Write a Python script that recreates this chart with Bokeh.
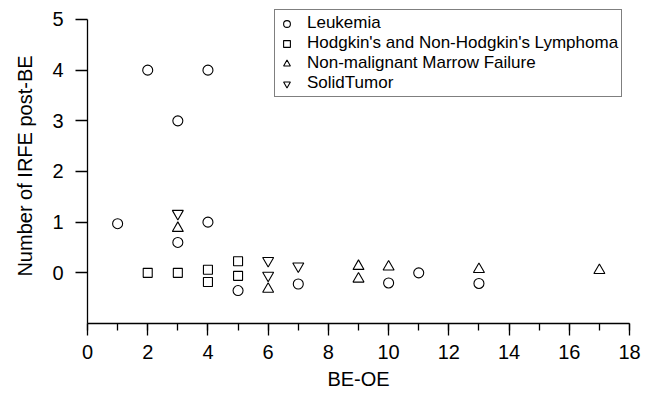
from bokeh.plotting import figure
from bokeh.models import Range1d, FixedTicker, Legend, LegendItem
from bokeh.embed import file_html
from bokeh.resources import INLINE

# Data
leuk_x = [1, 2, 3, 3, 4, 4, 5, 7, 10, 11, 13]
leuk_y = [0.97, 4.0, 3.0, 0.6, 4.0, 1.0, -0.35, -0.22, -0.2, 0.0, -0.21]
hodg_x = [2, 3, 4, 4, 5, 5]
hodg_y = [0.0, 0.0, 0.06, -0.18, 0.23, -0.06]
marrow_x = [3, 6, 9, 9, 10, 13, 17]
marrow_y = [0.88, -0.32, 0.13, -0.12, 0.12, 0.07, 0.05]
solid_x = [3, 6, 6, 7]
solid_y = [1.17, 0.24, -0.05, 0.13]

x_ticks = [0, 2, 4, 6, 8, 10, 12, 14, 16, 18]
y_ticks = [0, 1, 2, 3, 4, 5]
y_axis_bounds = (-1, 5)

FONT = "Liberation Sans"

p = figure(width=648, height=395, output_backend="svg", toolbar_location=None,
           x_range=Range1d(0, 18), y_range=Range1d(-1, 5.217),
           min_border_left=87, min_border_right=19, min_border_top=8, min_border_bottom=72)
p.outline_line_color = None
p.grid.visible = False
p.background_fill_color = "white"
p.border_fill_color = "white"

common = dict(fill_color=None, line_color="black", line_width=1.1)
r1 = p.scatter(leuk_x, leuk_y, marker="circle", size=10, **common)
r2 = p.scatter(hodg_x, hodg_y, marker="square", size=9, **common)
r3 = p.scatter(marrow_x, marrow_y, marker="triangle", size=11, **common)
r4 = p.scatter(solid_x, solid_y, marker="inverted_triangle", size=11, **common)

p.xaxis.ticker = FixedTicker(ticks=x_ticks, minor_ticks=list(range(0, 19)))
p.yaxis.ticker = FixedTicker(ticks=y_ticks, minor_ticks=[])
p.yaxis.bounds = y_axis_bounds
for ax in (p.xaxis[0], p.yaxis[0]):
    ax.axis_line_color = "black"
    ax.axis_line_width = 1.3
    ax.major_tick_line_color = "black"
    ax.major_tick_line_width = 1.3
    ax.major_tick_out = 12
    ax.major_tick_in = 0
    ax.major_label_text_font = FONT
    ax.major_label_text_font_size = "20px"
    ax.major_label_text_color = "black"
    ax.axis_label_text_font = FONT
    ax.axis_label_text_font_size = "20px"
    ax.axis_label_text_font_style = "normal"
    ax.axis_label_text_color = "black"
p.xaxis.minor_tick_line_color = "black"
p.xaxis.minor_tick_line_width = 1.3
p.xaxis.minor_tick_out = 7
p.xaxis.minor_tick_in = 0
p.yaxis.minor_tick_line_color = None
p.xaxis.major_label_standoff = 9
p.yaxis.major_label_standoff = 12
p.xaxis.axis_label = "BE-OE"
p.yaxis.axis_label = "Number of IRFE post-BE"
p.xaxis.axis_label_standoff = 6
p.yaxis.axis_label_standoff = 13

legend = Legend(items=[
    LegendItem(label="Leukemia", renderers=[r1]),
    LegendItem(label="Hodgkin's and Non-Hodgkin's Lymphoma", renderers=[r2]),
    LegendItem(label="Non-malignant Marrow Failure", renderers=[r3]),
    LegendItem(label="SolidTumor", renderers=[r4]),
], location=(187, 226))
legend.border_line_color = "black"
legend.border_line_width = 1
legend.background_fill_color = "white"
legend.background_fill_alpha = 1
legend.label_text_font = FONT
legend.label_text_font_size = "17px"
legend.label_text_color = "black"
legend.label_height = 17
legend.glyph_height = 17
legend.glyph_width = 17
legend.label_standoff = 12
legend.spacing = 0
legend.padding = 3
legend.margin = 0
p.add_layout(legend)

open("out.html", "w").write(file_html(p, INLINE))
